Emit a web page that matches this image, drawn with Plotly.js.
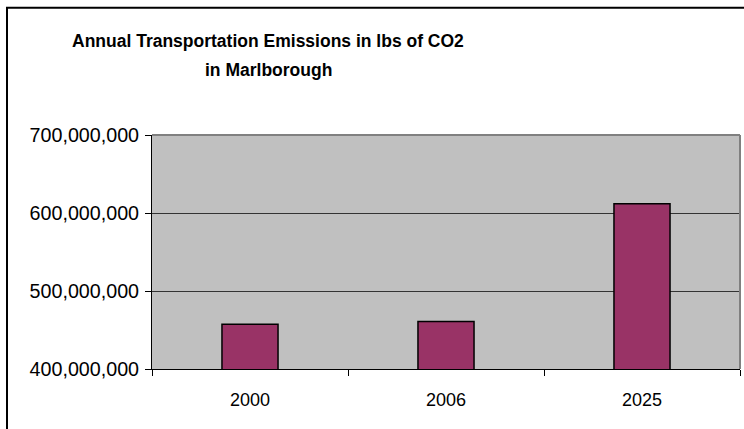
<!DOCTYPE html>
<html>
<head>
<meta charset="utf-8">
<script src="https://cdn.plot.ly/plotly-3.0.1.min.js"></script>
<style>
html,body{margin:0;padding:0;background:#fff;}
#chart{width:744px;height:429px;}
</style>
</head>
<body>
<div id="chart"></div>
<script>
const years = ['2000', '2006', '2025'];
const emissions = [457500000, 461000000, 612000000];
const yTicks = [400000000, 500000000, 600000000, 700000000];
const titleLines = ['Annual Transportation Emissions in lbs of CO2', 'in Marlborough'];

const trace = {
  type: 'bar',
  x: years,
  y: emissions,
  marker: {color: '#993366', line: {color: '#000000', width: 1.5}},
  hoverinfo: 'none'
};

// pixel -> paper helpers (plot area: x 152..740, y 134.7..369.3)
const px = x => (x - 152) / 588;
const py = y => (369.3 - y) / 234.6;
const titleMid = [40.5, 70];

const layout = {
  width: 744,
  height: 429,
  margin: {l: 152, r: 4, t: 135, b: 60},
  paper_bgcolor: '#ffffff',
  plot_bgcolor: '#C0C0C0',
  showlegend: false,
  bargap: 0.714,
  font: {family: 'Liberation Sans, Arial, sans-serif', color: '#000000'},
  annotations: titleLines.map((t, i) => ({
    text: '<b>' + t + '</b>',
    font: {family: 'Liberation Sans, Arial, sans-serif', size: 17.5, color: '#000000'},
    xref: 'paper', yref: 'paper',
    x: px(268), xanchor: 'center',
    y: py(titleMid[i]), yanchor: 'middle',
    showarrow: false, align: 'center'
  })),
  xaxis: {
    type: 'category',
    categoryorder: 'array',
    categoryarray: years,
    showgrid: false,
    showline: true, linecolor: '#000000', linewidth: 1,
    ticks: 'outside', tickson: 'boundaries', ticklen: 6, tickcolor: '#000000',
    tickfont: {size: 18},
    ticklabelstandoff: 14,
    zeroline: false
  },
  yaxis: {
    range: [400000000, 700000000],
    tickvals: yTicks,
    tickformat: ',d',
    showgrid: true, gridcolor: '#333333', gridwidth: 1,
    showline: true, linecolor: '#000000', linewidth: 1,
    ticks: 'outside', ticklen: 6, tickcolor: '#000000',
    tickfont: {size: 19.7},
    ticklabelstandoff: 2,
    zeroline: false
  },
  shapes: [
    {type: 'line', xref: 'paper', yref: 'paper', x0: 0, x1: 1, y0: 1, y1: 1,
     line: {color: '#808080', width: 2}},
    {type: 'line', xref: 'paper', yref: 'paper', x0: 1, x1: 1, y0: 0, y1: 1,
     line: {color: '#808080', width: 2}},
    {type: 'rect', xref: 'paper', yref: 'paper', x0: px(7), x1: 1.2, y0: -0.5, y1: py(7),
     line: {color: '#000000', width: 2}, fillcolor: 'rgba(0,0,0,0)'}
  ]
};

Plotly.newPlot('chart', [trace], layout, {displayModeBar: false, staticPlot: true});
</script>
</body>
</html>
